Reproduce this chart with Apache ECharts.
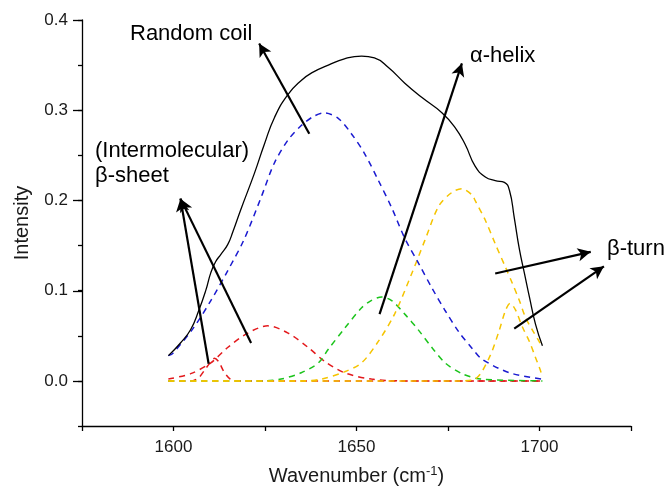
<!DOCTYPE html>
<html>
<head>
<meta charset="utf-8">
<script src="https://cdn.jsdelivr.net/npm/echarts@6/dist/echarts.min.js"></script>
<style>
  html, body { margin: 0; padding: 0; background: #fff; }
  #chart { width: 670px; height: 492px; }
</style>
</head>
<body>
<div id="chart"></div>
<script>
// measured sum spectrum (black) and fitted components (dashed)
var sumCurve = [[1598.6,0.028],[1601.9,0.042],[1604.7,0.057],[1606.9,0.078],[1608.8,0.1],[1610.2,0.12],[1611.5,0.132],[1612.9,0.14],[1614.8,0.151],[1616.2,0.165],[1618.4,0.19],[1622.1,0.23],[1624.8,0.262],[1627.6,0.292],[1631.2,0.317],[1634.9,0.333],[1638,0.342],[1642.3,0.35],[1646.7,0.357],[1651.4,0.36],[1654.9,0.358],[1658.8,0.347],[1663.2,0.33],[1667.9,0.314],[1673.4,0.297],[1676.9,0.281],[1679.7,0.262],[1682.4,0.238],[1685.2,0.226],[1687.9,0.222],[1690.4,0.22],[1691.8,0.211],[1693.1,0.181],[1694.5,0.146],[1695.9,0.119],[1697.3,0.092],[1698.9,0.063],[1700.8,0.039]];
var coilCurve = [[1598.6,0.028],[1599.7,0.03],[1605.5,0.059],[1610.2,0.089],[1614.8,0.122],[1619.2,0.156],[1623.9,0.203],[1627.5,0.241],[1631.3,0.267],[1634.9,0.283],[1638.2,0.293],[1641.2,0.297],[1645,0.291],[1648.6,0.274],[1652.2,0.252],[1656,0.222],[1659.6,0.192],[1663.2,0.158],[1667,0.13],[1670.6,0.103],[1674.2,0.078],[1678,0.054],[1681.6,0.036],[1684.3,0.024],[1691.8,0.009],[1700.8,0.002]];
var sheetCurve = [[1598.6,0.002],[1604.7,0.008],[1610.2,0.02],[1614.8,0.037],[1620.3,0.053],[1625.8,0.061],[1631.3,0.053],[1636.8,0.037],[1641.2,0.022],[1646.7,0.009],[1654.1,0.002],[1662,0],[1700.8,0]];
var sheetSmallCurve = [[1598.6,0],[1605,0],[1607,0.004],[1608.5,0.012],[1610,0.02],[1611.2,0.025],[1612.4,0.021],[1613.8,0.01],[1615.5,0.002],[1617,0],[1700.8,0]];
var helixCurve = [[1598.6,0],[1625,0],[1629.4,0.002],[1634.9,0.009],[1639.6,0.02],[1642.3,0.035],[1646.7,0.058],[1651.4,0.081],[1654,0.089],[1656.9,0.093],[1659.6,0.089],[1663.2,0.074],[1667,0.056],[1670.6,0.037],[1674.2,0.02],[1678.8,0.008],[1684,0.002],[1700.8,0]];
var turnCurve = [[1598.6,0],[1635,0],[1640.4,0.002],[1646.7,0.01],[1651.4,0.02],[1656,0.044],[1660.4,0.074],[1665.1,0.119],[1668.7,0.156],[1672.5,0.194],[1676.1,0.209],[1678.8,0.213],[1681.6,0.206],[1682.4,0.2],[1685.2,0.178],[1687.9,0.152],[1690.7,0.126],[1692.6,0.108],[1694.5,0.089],[1696.2,0.07],[1698.1,0.056],[1700,0.043],[1700.8,0.037]];
var turnSmallCurve = [[1598.6,0],[1678,0],[1682.4,0.002],[1686.3,0.026],[1689,0.056],[1690.7,0.078],[1692,0.086],[1693.4,0.079],[1695.3,0.06],[1697.3,0.043],[1698.9,0.026],[1700.3,0.011],[1700.8,0.004]];

var xTicks = [1600, 1650, 1700];
var yTicks = [0.0, 0.1, 0.2, 0.3, 0.4];

// annotation arrows [from, to] in data units
var arrows = [
  [[1637.1,0.274],[1623.4,0.374]],
  [[1656.3,0.074],[1678.8,0.352]],
  [[1609.6,0.019],[1601.9,0.202]],
  [[1621.2,0.042],[1601.9,0.202]],
  [[1687.9,0.119],[1714.0,0.143]],
  [[1693.1,0.058],[1717.6,0.127]]
];

var chart = echarts.init(document.getElementById('chart'));

var axisFont = '"Liberation Sans", Arial, sans-serif';
var noteFont = '22px "Liberation Sans", Arial, sans-serif';

function dashed(name, data, color) {
  return {
    name: name, type: 'line', data: data, xAxisIndex: 0, yAxisIndex: 0,
    showSymbol: false, smooth: 0.3, silent: true,
    lineStyle: { color: color, width: 1.5, type: [6, 5] }
  };
}

var option = {
  animation: false,
  backgroundColor: '#fff',
  grid: [
    { left: 82, right: 39, top: 20, bottom: 66 },
    { left: 82, right: 39, top: 20, bottom: 111 }
  ],
  xAxis: [{
    type: 'value', gridIndex: 0, min: 1575, max: 1725, interval: 25,
    axisLine: { onZero: false, lineStyle: { color: '#000', width: 1.3 } },
    axisTick: { length: 5, lineStyle: { color: '#000', width: 1.3 } },
    splitLine: { show: false },
    axisLabel: {
      margin: 13, color: '#1a1a1a', fontSize: 17, fontFamily: axisFont,
      formatter: function (v) { return xTicks.indexOf(v) >= 0 ? String(v) : ''; }
    },
    name: 'Wavenumber (cm{sup|-1})', nameLocation: 'middle', nameGap: 39,
    nameTextStyle: {
      color: '#1a1a1a', fontSize: 20, fontFamily: axisFont,
      rich: { sup: { fontSize: 13, fontFamily: axisFont, color: '#1a1a1a', verticalAlign: 'bottom', padding: [0, 0, 10, 0] } }
    }
  }, {
    type: 'value', gridIndex: 1, min: 1575, max: 1725, show: false
  }],
  yAxis: [{
    type: 'value', gridIndex: 0, min: -0.05, max: 0.4, interval: 0.05,
    axisLine: { show: true, onZero: false, lineStyle: { color: '#000', width: 1.3 } },
    axisTick: { show: true, length: 4, lineStyle: { color: '#000', width: 1.3 } },
    splitLine: { show: false },
    axisLabel: { show: false },
    name: 'Intensity', nameLocation: 'middle', nameGap: 50,
    nameTextStyle: { color: '#1a1a1a', fontSize: 20, fontFamily: axisFont }
  }, {
    type: 'value', gridIndex: 1, min: 0, max: 0.4, interval: 0.1,
    axisLine: { show: false, onZero: false },
    axisTick: { show: true, length: 9, lineStyle: { color: '#000', width: 1.3 } },
    splitLine: { show: false },
    axisLabel: {
      margin: 14, color: '#1a1a1a', fontSize: 17, fontFamily: axisFont,
      formatter: function (v) { return yTicks.indexOf(+v.toFixed(1)) >= 0 ? v.toFixed(1) : ''; }
    }
  }],
  series: [
    dashed('sheet', sheetCurve, '#e3191c'),
    dashed('sheet2', sheetSmallCurve, '#e3191c'),
    dashed('helix', helixCurve, '#1cc41c'),
    dashed('turn', turnCurve, '#f5c400'),
    dashed('turn2', turnSmallCurve, '#f5c400'),
    dashed('coil', coilCurve, '#1a1ad0'),
    {
      name: 'sum', type: 'line', data: sumCurve, xAxisIndex: 0, yAxisIndex: 0,
      showSymbol: false, smooth: 0.5, silent: true, z: 3,
      lineStyle: { color: '#000', width: 1.3 },
      markLine: {
        silent: true, symbol: ['none', 'arrow'], symbolSize: [10, 13],
        label: { show: false },
        lineStyle: { color: '#000', width: 2.2, type: 'solid' },
        data: arrows.map(function (a) {
          return [{ coord: a[0] }, { coord: a[1] }];
        })
      }
    }
  ],
  graphic: [
    { type: 'text', x: 130, y: 34, style: { text: 'Random coil', font: noteFont, fill: '#000', verticalAlign: 'middle' } },
    { type: 'text', x: 95, y: 151, style: { text: '(Intermolecular)', font: noteFont, fill: '#000', verticalAlign: 'middle' } },
    { type: 'text', x: 95, y: 176, style: { text: 'β-sheet', font: noteFont, fill: '#000', verticalAlign: 'middle' } },
    { type: 'text', x: 470, y: 56, style: { text: 'α-helix', font: noteFont, fill: '#000', verticalAlign: 'middle' } },
    { type: 'text', x: 607, y: 249, style: { text: 'β-turn', font: noteFont, fill: '#000', verticalAlign: 'middle' } }
  ]
};

chart.setOption(option);
</script>
</body>
</html>
